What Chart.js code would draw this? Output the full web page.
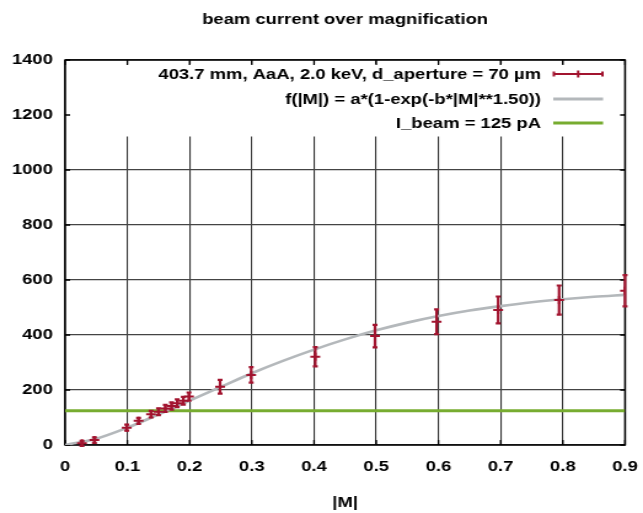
<!DOCTYPE html>
<html>
<head>
<meta charset="utf-8">
<script src="https://cdn.jsdelivr.net/npm/chart.js@4/dist/chart.umd.min.js"></script>
<style>
  html, body { margin: 0; padding: 0; background: #fff; overflow: hidden; }
  /* the reference is horizontally stretched, so draw narrow and stretch */
  #wrap { width: 523px; height: 513px; transform: scaleX(1.22945); transform-origin: 0 0; }
</style>
</head>
<body>
<div id="wrap"><canvas id="c" width="523" height="513"></canvas></div>
<script>
// --- data ---
const titleText = 'beam current over magnification';
const xTitle = '|M|';
const xTicks = [0, 0.1, 0.2, 0.3, 0.4, 0.5, 0.6, 0.7, 0.8, 0.9];
const yTicks = [0, 200, 400, 600, 800, 1000, 1200, 1400];

const dataLabel = '403.7 mm, AaA, 2.0 keV, d_aperture = 70 µm';
const dataX = [0.027, 0.047, 0.099, 0.118, 0.138, 0.15, 0.161, 0.171, 0.18, 0.19, 0.199, 0.249, 0.299, 0.402, 0.498, 0.597, 0.696, 0.794, 0.9];
const dataY = [6, 18, 63, 88, 112, 121, 133, 142, 152, 161, 176, 212, 255, 321, 396, 448, 491, 527, 561];
const dataErr = [9, 10, 11, 11, 12, 12, 13, 13, 14, 14, 15, 25, 28, 35, 41, 45, 49, 53, 57];

const fitLabel = 'f(|M|) = a*(1-exp(-b*|M|**1.50))';
const fitX = [0, 0.05, 0.1, 0.15, 0.2, 0.25, 0.3, 0.35, 0.4, 0.45, 0.5, 0.55, 0.6, 0.65, 0.7, 0.75, 0.8, 0.85, 0.9];
const fitY = [0, 23, 63, 111, 161, 211, 261, 306, 347, 384, 417, 445, 469, 489, 505, 519, 530, 539, 546];

const beamLabel = 'I_beam = 125 pA';
const beamX = [0, 0.9];
const beamY = [125, 125];

// --- styles ---
const RED = '#a2142f', GRAY = '#b4b8bb', GREEN = '#77ac30';
const FONT = { family: '"Liberation Sans", Arial, sans-serif', size: 15, weight: 'bold' };
const fontStr = 'bold 15px "Liberation Sans", Arial, sans-serif';

// white key box over the grid, then frame + inward ticks
const framePlugin = {
  id: 'frame',
  beforeDatasetsDraw(chart) {
    const { ctx, chartArea: a, scales } = chart;
    ctx.save();
    ctx.fillStyle = '#fff';
    ctx.fillRect(a.left + 1, 64, a.right - a.left - 2, 72.5);
    ctx.strokeStyle = '#000';
    ctx.lineWidth = 1.3;
    ctx.beginPath();
    xTicks.forEach(v => {
      const px = scales.x.getPixelForValue(v);
      ctx.moveTo(px, a.top); ctx.lineTo(px, a.top + 5);
      ctx.moveTo(px, a.bottom); ctx.lineTo(px, a.bottom - 5);
    });
    yTicks.forEach(v => {
      const py = scales.y.getPixelForValue(v);
      ctx.moveTo(a.left, py); ctx.lineTo(a.left + 4, py);
      ctx.moveTo(a.right, py); ctx.lineTo(a.right - 4, py);
    });
    ctx.stroke();
    ctx.lineWidth = 1.5;
    ctx.strokeRect(a.left, a.top, a.right - a.left, a.bottom - a.top);
    ctx.restore();
  }
};

// error bars for the measured points
const errPlugin = {
  id: 'errbars',
  afterDatasetsDraw(chart) {
    const { ctx, scales } = chart;
    ctx.save();
    ctx.strokeStyle = RED;
    ctx.lineWidth = 2.2;
    ctx.beginPath();
    dataX.forEach((x, i) => {
      const px = scales.x.getPixelForValue(x);
      const y1 = scales.y.getPixelForValue(dataY[i] - dataErr[i]);
      const y2 = scales.y.getPixelForValue(dataY[i] + dataErr[i]);
      ctx.moveTo(px, y1); ctx.lineTo(px, y2);
      ctx.moveTo(px - 2, y1); ctx.lineTo(px + 2, y1);
      ctx.moveTo(px - 2, y2); ctx.lineTo(px + 2, y2);
    });
    ctx.stroke();
    ctx.restore();
  }
};

// title over the plot centre + gnuplot-like key
const keyPlugin = {
  id: 'key',
  afterDraw(chart) {
    const { ctx, chartArea: a } = chart;
    ctx.save();
    ctx.font = fontStr;
    ctx.fillStyle = '#000';
    ctx.textBaseline = 'middle';
    ctx.textAlign = 'center';
    ctx.fillText(titleText, (a.left + a.right) / 2, 20);

    const tx = 440, s0 = 450, s1 = 490.5;
    const rows = [74, 99, 123];
    ctx.textAlign = 'right';
    [dataLabel, fitLabel, beamLabel].forEach((t, i) => ctx.fillText(t, tx, rows[i] + 1));

    // data sample
    let y = rows[0];
    ctx.strokeStyle = RED; ctx.lineWidth = 2;
    ctx.beginPath();
    ctx.moveTo(s0, y); ctx.lineTo(s1, y);
    ctx.moveTo(s0 + 0.5, y - 2.5); ctx.lineTo(s0 + 0.5, y + 2.5);
    ctx.moveTo(s1 - 0.5, y - 2.5); ctx.lineTo(s1 - 0.5, y + 2.5);
    const mid = (s0 + s1) / 2;
    ctx.moveTo(mid, y - 3.5); ctx.lineTo(mid, y + 3.5);
    ctx.stroke();

    ctx.lineWidth = 3;
    ctx.strokeStyle = GRAY;
    ctx.beginPath(); ctx.moveTo(s0, rows[1]); ctx.lineTo(s1, rows[1]); ctx.stroke();
    ctx.strokeStyle = GREEN;
    ctx.beginPath(); ctx.moveTo(s0, rows[2]); ctx.lineTo(s1, rows[2]); ctx.stroke();
    ctx.restore();
  }
};

new Chart(document.getElementById('c'), {
  type: 'scatter',
  data: {
    datasets: [
      {
        label: dataLabel,
        data: dataX.map((x, i) => ({ x, y: dataY[i] })),
        pointStyle: 'cross', pointRadius: 4, pointBorderWidth: 2,
        borderColor: RED, backgroundColor: RED, showLine: false
      },
      {
        label: fitLabel,
        data: fitX.map((x, i) => ({ x, y: fitY[i] })),
        showLine: true, pointRadius: 0, borderColor: GRAY, borderWidth: 2.6,
        cubicInterpolationMode: 'monotone'
      },
      {
        label: beamLabel,
        data: beamX.map((x, i) => ({ x, y: beamY[i] })),
        showLine: true, pointRadius: 0, borderColor: GREEN, borderWidth: 3
      }
    ]
  },
  options: {
    responsive: false,
    animation: false,
    devicePixelRatio: 1,
    layout: { padding: { left: 0, right: 14.6, top: 60, bottom: 0 } },
    plugins: {
      legend: { display: false },
      tooltip: { enabled: false },
      title: { display: false }
    },
    scales: {
      x: {
        type: 'linear', min: 0, max: 0.9,
        afterBuildTicks: sc => { sc.ticks = xTicks.map(v => ({ value: v })); },
        afterFit: sc => { sc.height = 68; sc.paddingLeft = 0; sc.paddingRight = 0; },
        ticks: { color: '#000', font: FONT, padding: 13, maxRotation: 0, callback: v => String(v) },
        grid: { color: '#333', lineWidth: 1.1, drawTicks: false },
        border: { display: false },
        title: { display: true, text: xTitle, color: '#000', font: FONT, padding: { top: 0, bottom: 1 } }
      },
      y: {
        type: 'linear', min: 0, max: 1400,
        afterBuildTicks: sc => { sc.ticks = yTicks.map(v => ({ value: v })); },
        afterFit: sc => { sc.width = 53; sc.paddingTop = 0; sc.paddingBottom = 0; },
        ticks: { color: '#000', font: FONT, padding: 10, callback: v => String(v) },
        grid: { color: '#444', lineWidth: 1.2, drawTicks: false },
        border: { display: false }
      }
    }
  },
  plugins: [framePlugin, errPlugin, keyPlugin]
});
</script>
</body>
</html>
